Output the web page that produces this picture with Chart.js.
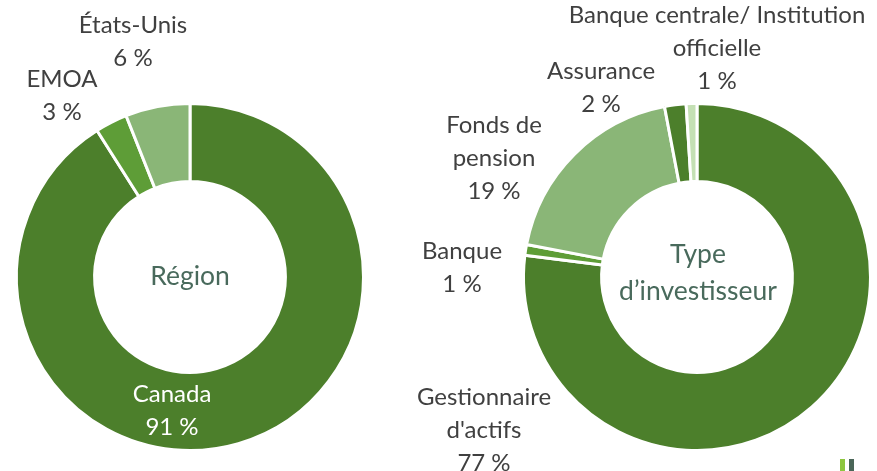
<!DOCTYPE html>
<html>
<head>
<meta charset="utf-8">
<script src="https://cdn.jsdelivr.net/npm/chart.js@4/dist/chart.umd.min.js"></script>
<style>
    body { margin: 0; background: #fff; }
    .wrap { position: relative; width: 877px; height: 471px; overflow: hidden; }
    #regionChartBox { position: absolute; left: 0; top: 0; width: 400px; height: 471px; }
    #typeChartBox { position: absolute; left: 400px; top: 0; width: 477px; height: 471px; }
    .mark { position: absolute; top: 459px; width: 5px; height: 12px; }
</style>
</head>
<body>
<div class="wrap">
    <div id="regionChartBox"><canvas id="regionChart"></canvas></div>
    <div id="typeChartBox"><canvas id="typeChart"></canvas></div>
    <div class="mark" style="left:840px;background:#8dc63f"></div>
    <div class="mark" style="left:849px;background:#4a6658"></div>
</div>
<script>
// Région
const regionLabels = [["Canada"], ["EMOA"], ["États-Unis"]];
const regionValues = [91, 3, 6];

// Type d'investisseur
const typeLabels = [["Gestionnaire", "d'actifs"], ["Banque"], ["Fonds de", "pension"], ["Assurance"], ["Banque centrale/ Institution", "officielle"]];
const typeValues = [77, 1, 19, 2, 1];

const regionColors = ["#4c7f2b", "#5e9d37", "#8ab677"];
const typeColors = ["#4c7f2b", "#5e9d37", "#8ab677", "#4c7f2b", "#c4e0b4"];

// where each label sits, relative to the doughnut centre (text centre x, first baseline y)
const regionLabelPos = [[-18, 125, "#ffffff"], [-128, -190, "#404040"], [-57, -244, "#404040"]];
const typeLabelPos = [[-213, 128, "#404040"], [-235, -18, "#404040"], [-203, -144, "#404040"], [-96, -198, "#404040"], [20, -254, "#404040"]];

const FONT = "Lato, 'Noto Sans', sans-serif";
const LINE = 33;

const labelPlugin = {
    id: 'labelPlugin',
    afterDraw(chart, args, opts) {
        const ctx = chart.ctx;
        const arc = chart.getDatasetMeta(0).data[0];
        const cx = arc.x, cy = arc.y;
        const values = chart.data.datasets[0].data;
        ctx.save();
        ctx.textAlign = 'center';
        ctx.textBaseline = 'alphabetic';
        ctx.font = "24px " + FONT;
        chart.data.labels.forEach((lines, i) => {
            const p = opts.positions[i];
            ctx.fillStyle = p[2];
            const all = lines.concat([values[i] + " %"]);
            all.forEach((txt, j) => {
                ctx.fillText(txt, cx + p[0], cy + p[1] + j * LINE);
            });
        });
        // centre title
        ctx.fillStyle = "#496a5c";
        ctx.font = "26.5px " + FONT;
        const t = opts.title;
        const y0 = cy + opts.titleY;
        t.forEach((txt, j) => ctx.fillText(txt, cx + opts.titleX, y0 + j * 37));
        ctx.restore();
    }
};

function makeChart(id, labels, values, colors, positions, title, titleX, titleY, padding) {
    return new Chart(document.getElementById(id), {
        type: 'doughnut',
        data: {
            labels: labels,
            datasets: [{
                data: values,
                backgroundColor: colors,
                borderColor: "#ffffff",
                borderWidth: 3,
                borderAlign: 'center'
            }]
        },
        options: {
            responsive: true,
            maintainAspectRatio: false,
            animation: false,
            cutout: '55%',
            layout: { padding: padding },
            plugins: {
                legend: { display: false },
                tooltip: { enabled: false },
                labelPlugin: { positions: positions, title: title, titleX: titleX, titleY: titleY }
            }
        },
        plugins: [labelPlugin]
    });
}

makeChart("regionChart", regionLabels, regionValues, regionColors, regionLabelPos,
    ["Région"], 0, 8, {left: 15, right: 35, top: 102, bottom: 19});
makeChart("typeChart", typeLabels, typeValues, typeColors, typeLabelPos,
    ["Type", "d’investisseur"], 1, -14, {left: 122, right: 5, top: 102, bottom: 19});
</script>
</body>
</html>
